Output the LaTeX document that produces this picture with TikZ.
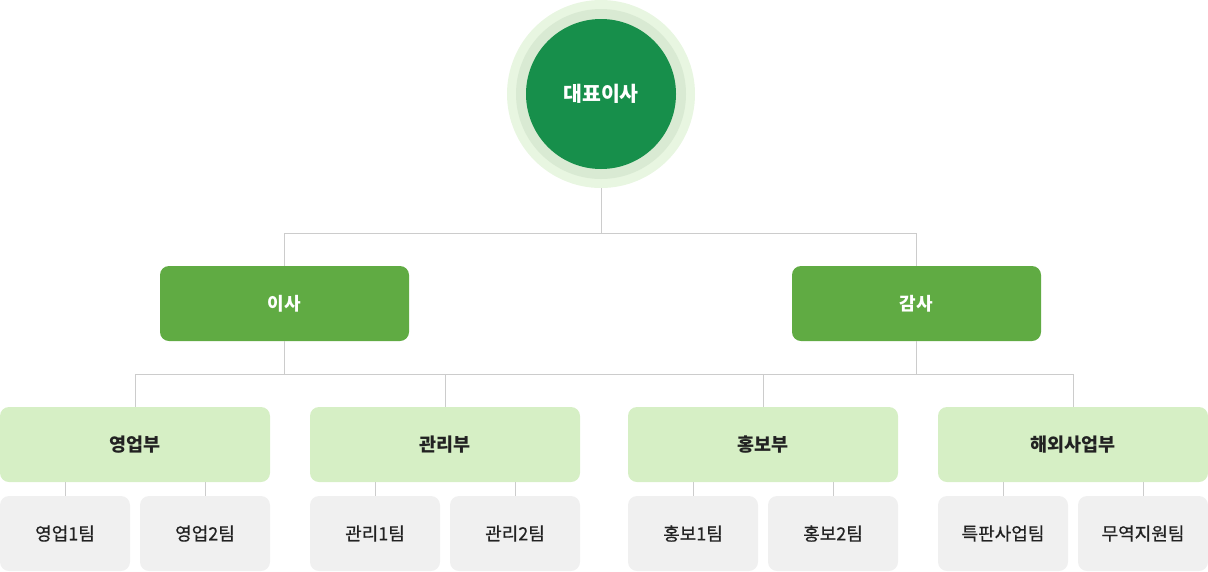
\documentclass[tikz,border=0pt]{standalone}
\usepackage{fontspec}
\setmainfont{Noto Sans CJK KR}
\newfontfamily\krmed[FakeBold=0.6]{Noto Sans CJK KR}
\definecolor{ceoC}{HTML}{178F4B}
\definecolor{ringA}{HTML}{D9EAD3}
\definecolor{ringB}{HTML}{E8F6E1}
\definecolor{greenC}{HTML}{60AB43}
\definecolor{lightC}{HTML}{D6EFC5}
\definecolor{grayC}{HTML}{F0F0F0}
\definecolor{lineC}{HTML}{CCCCCC}
\definecolor{txtC}{HTML}{222222}
\tikzset{
  ring/.style={circle, inner sep=0pt, draw=none},
  topbox/.style={rectangle, rounded corners=9pt, fill=greenC, minimum width=249pt, minimum height=75pt, inner sep=0pt, text=white, font=\fontsize{18}{21}\selectfont\bfseries},
  deptbox/.style={rectangle, rounded corners=9pt, fill=lightC, minimum width=270pt, minimum height=75pt, inner sep=0pt, text=txtC, font=\fontsize{18.5}{21}\selectfont\bfseries},
  teambox/.style={rectangle, rounded corners=9pt, fill=grayC, minimum width=130pt, minimum height=75pt, inner sep=0pt, text=txtC, font=\fontsize{18}{21}\selectfont\krmed},
  conn/.style={draw=lineC, line width=1pt}
}
\begin{document}
\begin{tikzpicture}[x=1pt,y=-1pt]
\useasboundingbox (0,0) rectangle (1208,571);
% CEO circle
\node[ring, fill=ringB, minimum size=188pt] (ceoO) at (601,94) {};
\node[ring, fill=ringA, minimum size=170pt] (ceoM) at (601,94) {};
\node[ring, fill=ceoC, minimum size=150pt, text=white, font=\fontsize{20.5}{24}\selectfont\bfseries] (ceo) at (601,94) {대표이사};
% level 1
\node[topbox] (isa) at (284.5,303.5) {이사};
\node[topbox] (gamsa) at (916.5,303.5) {감사};
% level 2
\node[deptbox] (sales) at (135,444.5) {영업부};
\node[deptbox] (admin) at (445,444.5) {관리부};
\node[deptbox] (pr) at (763,444.5) {홍보부};
\node[deptbox] (intl) at (1073,444.5) {해외사업부};
% teams
\node[teambox] (s1) at (65,533.5) {영업1팀};
\node[teambox] (s2) at (205,533.5) {영업2팀};
\node[teambox] (a1) at (375,533.5) {관리1팀};
\node[teambox] (a2) at (515,533.5) {관리2팀};
\node[teambox] (p1) at (693,533.5) {홍보1팀};
\node[teambox] (p2) at (833,533.5) {홍보2팀};
\node[teambox] (i1) at (1003,533.5) {특판사업팀};
\node[teambox] (i2) at (1143,533.5) {무역지원팀};
% connectors
\coordinate (j1) at (601,233);
\coordinate (j2) at (284.5,374);
\coordinate (j3) at (916.5,374);
\draw[conn] (ceoO.south) -- (j1);
\draw[conn] (j1) -| (isa.north);
\draw[conn] (j1) -| (gamsa.north);
\draw[conn] (isa.south) -- (j2);
\draw[conn] (gamsa.south) -- (j3);
\draw[conn] (j2) -| (sales.north);
\draw[conn] (j2) -| (admin.north);
\draw[conn] (j3) -| (pr.north);
\draw[conn] (j3) -| (intl.north);
\draw[conn] (j2) -- (j3);
\foreach \d/\t in {sales/s1, sales/s2, admin/a1, admin/a2, pr/p1, pr/p2, intl/i1, intl/i2}{
  \draw[conn] (\d.south -| \t.north) -- (\t.north);
}
\end{tikzpicture}
\end{document}
